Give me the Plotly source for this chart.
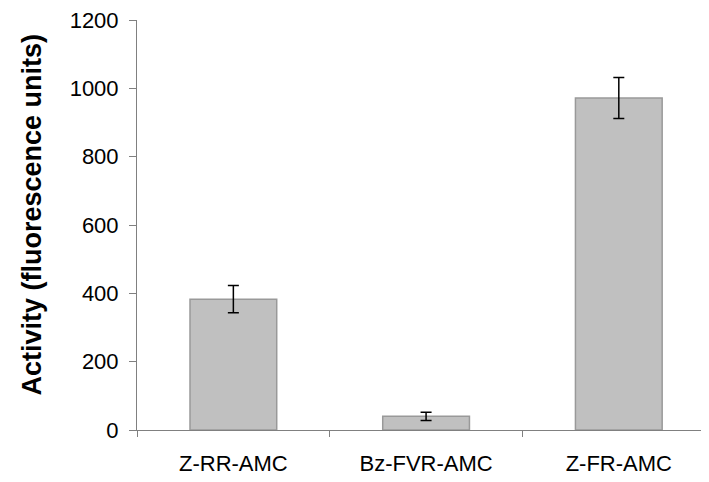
import plotly.graph_objects as go

categories = ["Z-RR-AMC", "Bz-FVR-AMC", "Z-FR-AMC"]
activity = [383, 40, 972]
errors = [40, 12, 60]
y_ticks = [0, 200, 400, 600, 800, 1000, 1200]

fig = go.Figure()
fig.add_trace(go.Bar(
    x=categories, y=activity,
    width=0.45,
    marker=dict(color="#c0c0c0", line=dict(color="#999999", width=1.5)),
    error_y=dict(type="data", array=errors, visible=True, color="black", thickness=1.5, width=5.5),
))

font = "Liberation Sans, Arial, sans-serif"
fig.update_layout(
    width=709, height=482,
    margin=dict(l=129, r=8, t=12, b=60, autoexpand=False),
    plot_bgcolor="white", paper_bgcolor="white",
    showlegend=False,
    font=dict(family=font, size=22, color="black"),
    xaxis=dict(
        type="category", range=[-0.5, 2.468],
        showline=True, linecolor="#808080", linewidth=1,
        ticks="outside", ticklen=6, tickcolor="#808080", tickson="boundaries",
        tickfont=dict(size=22), showgrid=False, ticklabelstandoff=14,
        automargin=False,
    ),
    yaxis=dict(
        range=[0, 1200], tickvals=y_ticks,
        showline=True, linecolor="#808080", linewidth=1,
        ticks="outside", ticklen=7, tickcolor="#808080",
        tickfont=dict(size=22), showgrid=False, zeroline=False, ticklabelstandoff=6,
        ticklabeloverflow="allow", automargin=False,
    ),
    annotations=[dict(
        text="<b>Activity (fluorescence units)</b>",
        xref="paper", yref="paper", x=(31.5 - 137) / 572, y=(430 - 215) / 410,
        textangle=-90, showarrow=False, font=dict(size=27),
        xanchor="center", yanchor="middle",
    )],
)

fig.write_html("out.html")
